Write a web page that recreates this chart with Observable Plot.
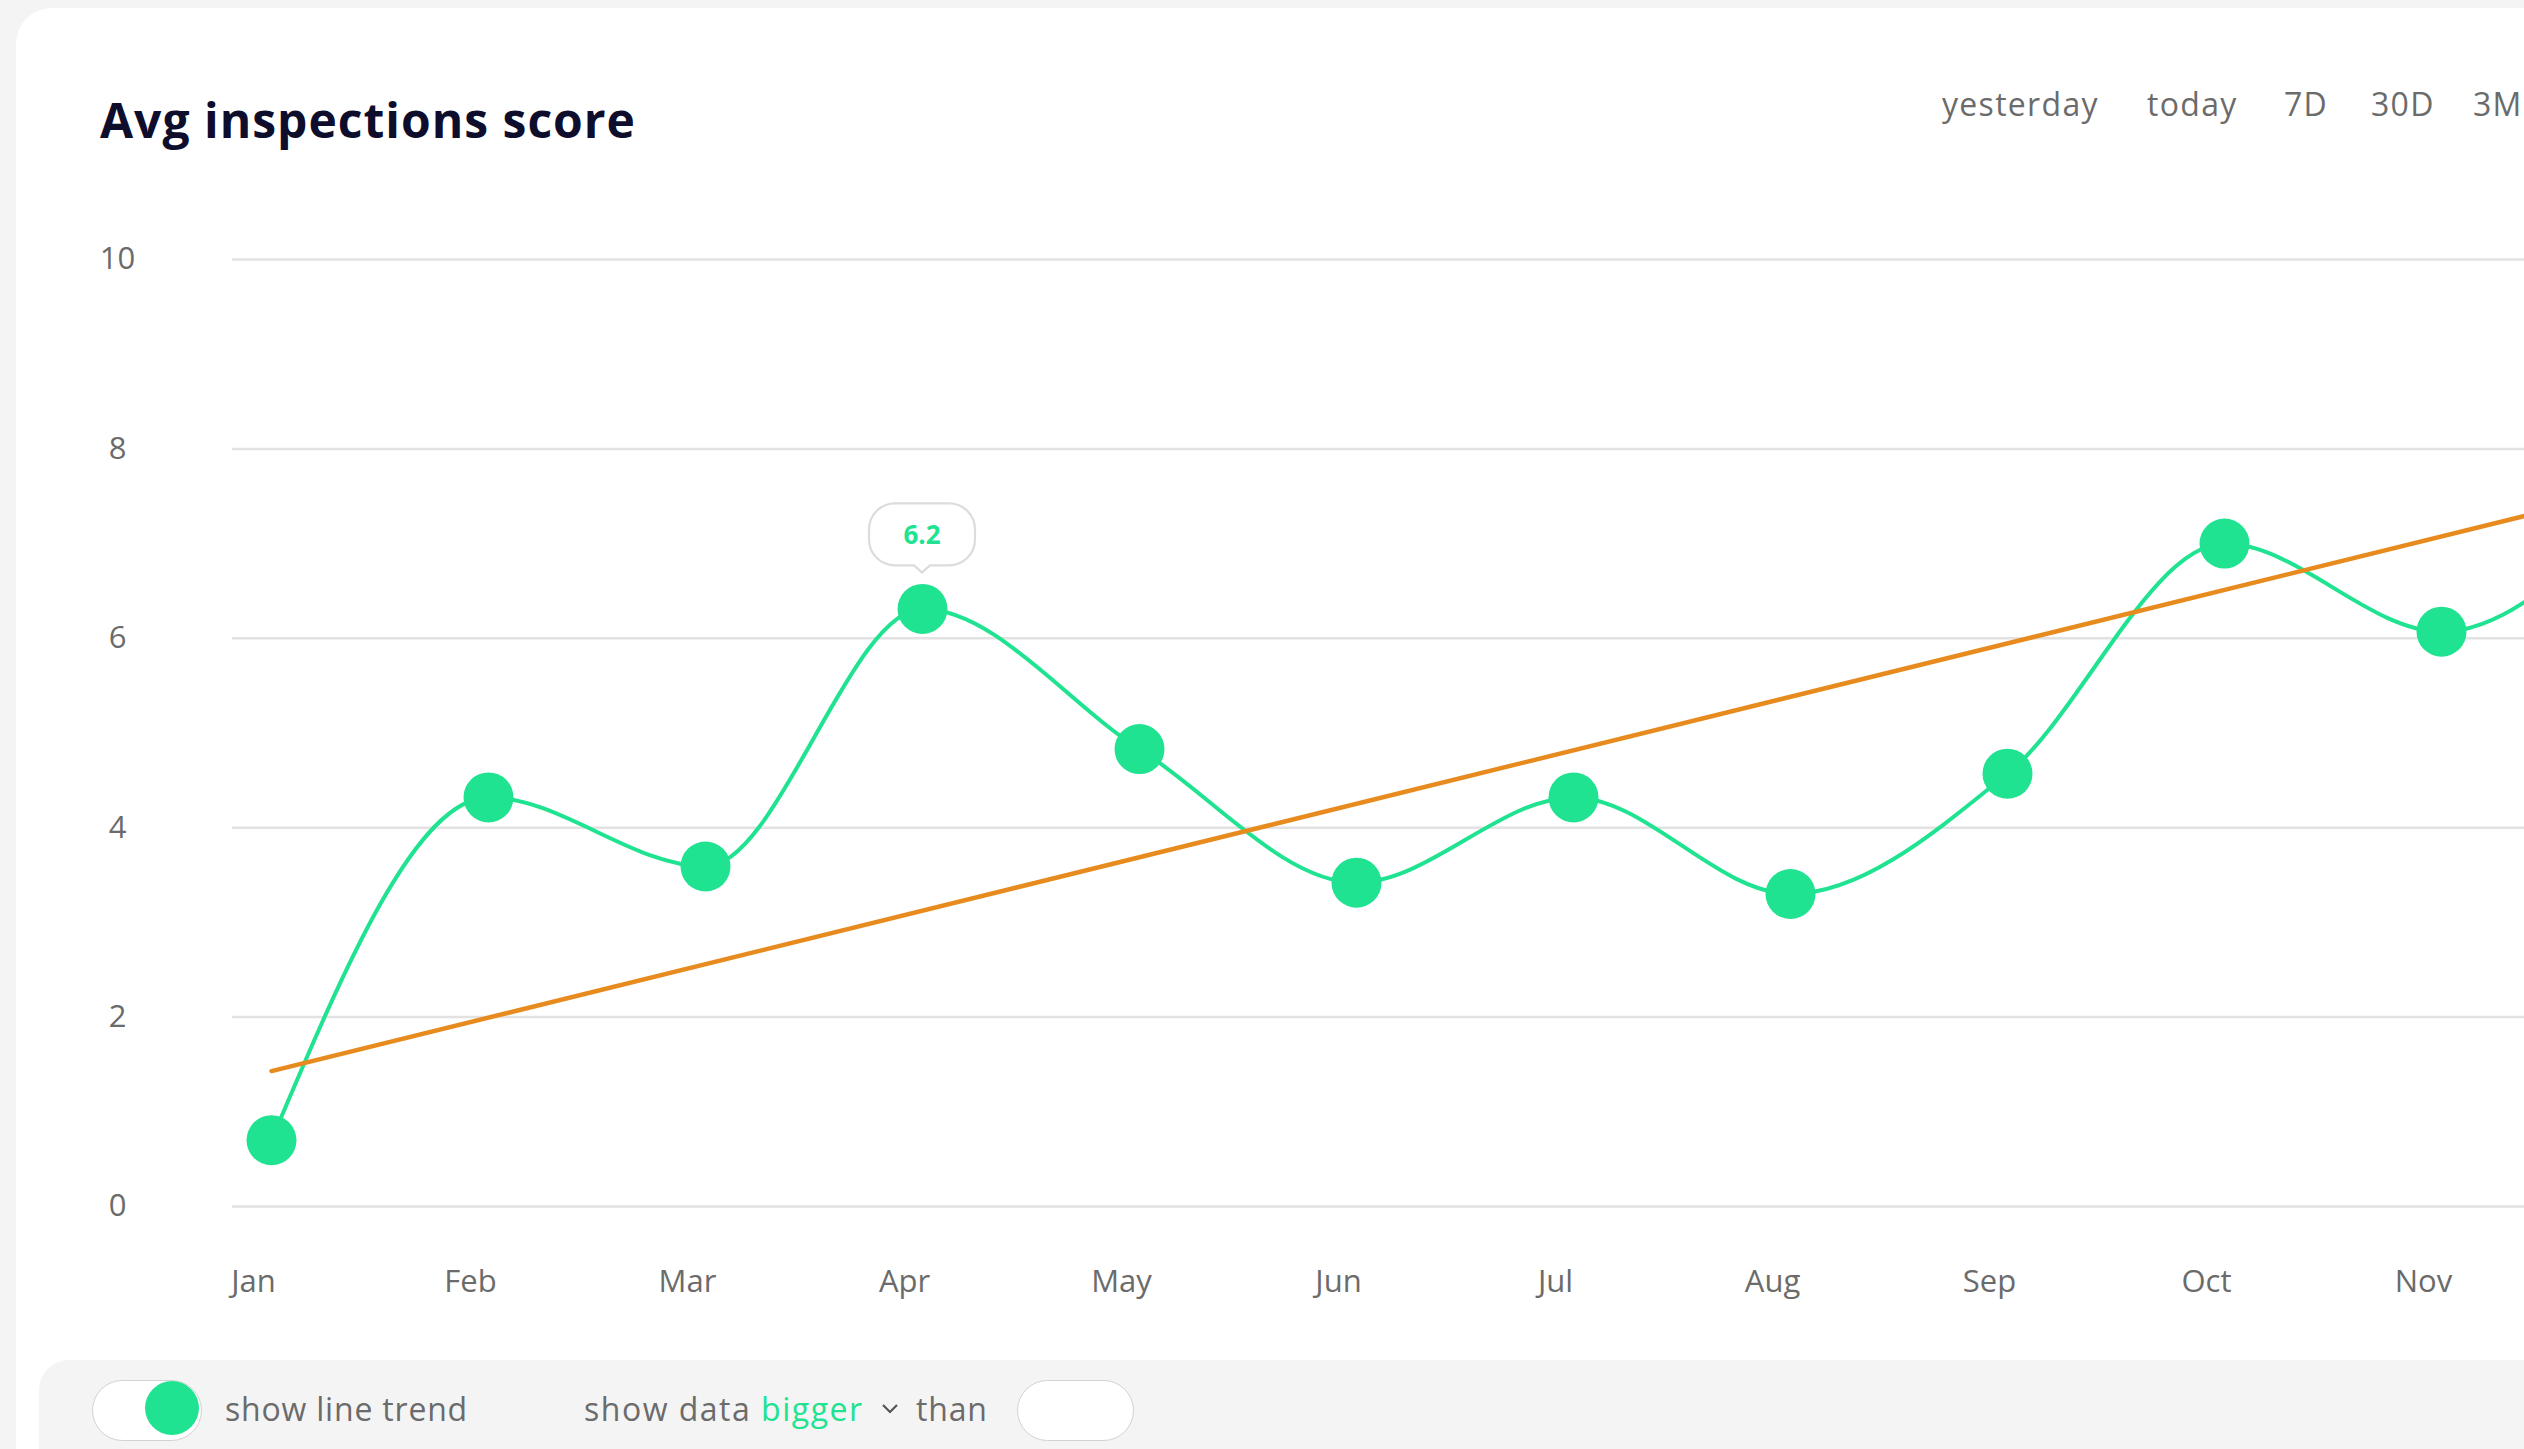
<!DOCTYPE html>
<html>
<head>
<meta charset="utf-8">
<script src="https://cdn.jsdelivr.net/npm/d3@7"></script>
<script src="https://cdn.jsdelivr.net/npm/@observablehq/plot@0.6"></script>
<style>
  html, body { margin: 0; padding: 0; }
  body { width: 2524px; height: 1449px; overflow: hidden; position: relative; background: #f4f4f4; font-family: "Open Sans", "Noto Sans", sans-serif; }
  .abs { position: absolute; white-space: nowrap; }
  #card { left: 16px; top: 8px; width: 2700px; height: 1700px; background: #ffffff; border-radius: 36px; }
  #title { left: 100px; top: 96px; font-size: 48px; line-height: 48px; font-weight: 700; color: #0e0e2c; letter-spacing: 1px; }
  .range { top: 88px; font-size: 32px; line-height: 32px; color: #6b6b6b; letter-spacing: 1.3px; }
  #chart { left: 0; top: 190px; }
  #bar { left: 39px; top: 1360px; width: 2700px; height: 300px; background: #f4f4f4; border-radius: 30px; }
  .pill { top: 1380px; height: 59px; background: #fff; border: 1.5px solid #d2d2d2; border-radius: 31px; box-sizing: content-box; }
  .knob { left: 145px; top: 1381px; width: 54px; height: 54px; border-radius: 50%; background: #20e391; }
  .ctl { top: 1393px; font-size: 32px; line-height: 32px; color: #6b6b6b; letter-spacing: 0.8px; }
</style>
</head>
<body>
<div id="card" class="abs"></div>
<div id="title" class="abs">Avg inspections score</div>
<div id="ranges"></div>
<div id="chart" class="abs"></div>
<div id="bar" class="abs"></div>
<div class="abs pill" style="left:92px;width:108px;"></div>
<div class="abs knob"></div>
<div class="abs ctl" style="left:225px;">show line trend</div>
<div class="abs ctl" style="left:584px;letter-spacing:1.5px;">show data <span style="color:#20e391">bigger</span></div>
<svg class="abs" style="left:880px;top:1402px;" width="20" height="14" viewBox="0 0 20 14"><polyline points="3,3 10,10 17,3" fill="none" stroke="#555" stroke-width="2.2"/></svg>
<div class="abs ctl" style="left:916px;">than</div>
<div class="abs pill" style="left:1017px;width:115px;"></div>
<script>
// ---- data ----
const months = ["Jan", "Feb", "Mar", "Apr", "May", "Jun", "Jul", "Aug", "Sep", "Oct", "Nov", "Dec"];
const scores = [0.70, 4.32, 3.59, 6.31, 4.83, 3.42, 4.32, 3.30, 4.57, 7.00, 6.07, 7.70];
const tickMonths = ["Jan", "Feb", "Mar", "Apr", "May", "Jun", "Jul", "Aug", "Sep", "Oct", "Nov"];
const trendMonths = ["Jan", "Dec"];
const trendValues = [1.43, 7.64];
const yTicks = [0, 2, 4, 6, 8, 10];
const highlightMonth = "Apr";
const highlightLabel = "6.2";
const rangeLabels = ["yesterday", "today", "7D", "30D", "3M"];
const rangeLefts = [1942, 2147, 2284, 2371, 2473];

const GREEN = "#20e391";
const ORANGE = "#e88b1f";

// range buttons
const rangesDiv = document.getElementById("ranges");
rangeLabels.forEach((t, i) => {
  const d = document.createElement("div");
  d.className = "abs range";
  d.style.left = rangeLefts[i] + "px";
  d.textContent = t;
  rangesDiv.appendChild(d);
});

const data = months.map((m, i) => ({month: m, score: scores[i]}));
const trend = trendMonths.map((m, i) => ({month: m, value: trendValues[i]}));
const hiScore = scores[months.indexOf(highlightMonth)];

function bubble(index, scales) {
  const cx = scales.x(highlightMonth), cy = scales.y(hiScore);
  const w = 106, r = 26;
  const top = cy - 105, bottom = cy - 43;
  const x0 = cx - w / 2, x1 = cx + w / 2;
  const g = d3.create("svg:g");
  g.append("path")
    .attr("d", `M${x0 + r},${top} H${x1 - r} A${r},${r} 0 0 1 ${x1},${top + r} V${bottom - r} A${r},${r} 0 0 1 ${x1 - r},${bottom} H${cx + 8} L${cx},${bottom + 7} L${cx - 8},${bottom} H${x0 + r} A${r},${r} 0 0 1 ${x0},${bottom - r} V${top + r} A${r},${r} 0 0 1 ${x0 + r},${top} Z`)
    .attr("fill", "#fff")
    .attr("stroke", "#dcdcdc")
    .attr("stroke-width", 2.2);
  g.append("text")
    .attr("x", cx)
    .attr("y", cy - 74)
    .attr("text-anchor", "middle")
    .attr("dominant-baseline", "central")
    .attr("font-size", 26)
    .attr("font-weight", 700)
    .attr("fill", GREEN)
    .text(highlightLabel);
  return g.node();
}

const chart = Plot.plot({
  width: 2524,
  height: 1170,
  marginLeft: 232,
  marginRight: 0,
  marginTop: 69,
  marginBottom: 154,
  x: {type: "point", domain: months, range: [270, 2659], padding: 0},
  y: {domain: [0, 10]},
  style: {fontFamily: "'Open Sans', sans-serif", fontSize: "31px", color: "#6b6b6b", background: "transparent", overflow: "visible"},
  marks: [
    Plot.ruleY(yTicks, {stroke: "#e2e2e2", strokeWidth: 2.5}),
    Plot.axisY(yTicks, {tickSize: 0, tickPadding: 115, textAnchor: "middle", label: null, fill: "#6b6b6b", fontSize: 31, tickFormat: d => String(d)}),
    Plot.axisX(tickMonths, {tickSize: 0, tickPadding: 63, dx: -18, label: null, fill: "#6b6b6b", fontSize: 31}),
    Plot.line(data, {x: "month", y: "score", curve: "monotone-x", stroke: GREEN, strokeWidth: 4}),
    Plot.line(trend, {x: "month", y: "value", stroke: ORANGE, strokeWidth: 4.5}),
    Plot.dot(data, {x: "month", y: "score", r: 25, fill: GREEN, stroke: "none"}),
    bubble
  ]
});
document.getElementById("chart").appendChild(chart);
</script>
</body>
</html>
